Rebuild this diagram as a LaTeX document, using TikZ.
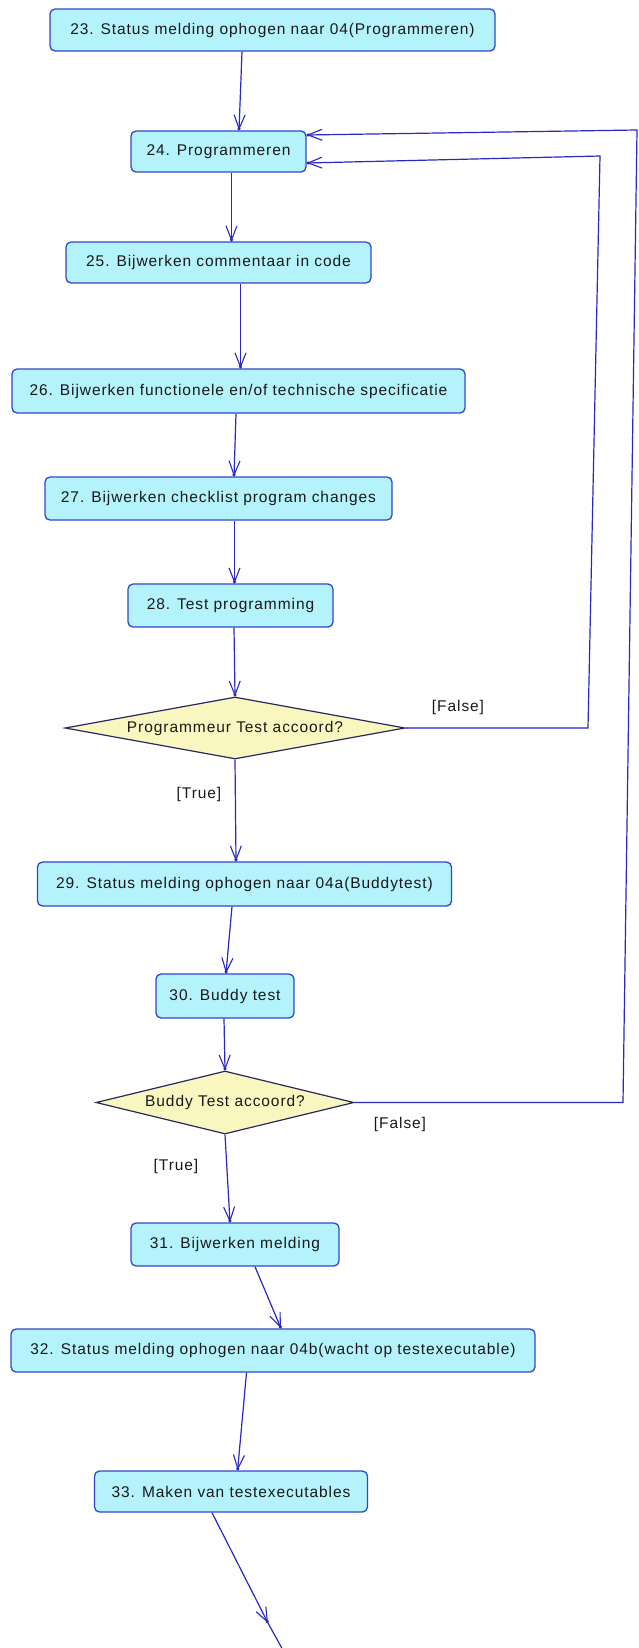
\documentclass[tikz,border=0pt]{standalone}
\usepackage{fontspec}
\setmainfont{Liberation Sans}[LetterSpace=6]
\usetikzlibrary{arrows.meta,shapes.geometric}

\definecolor{boxfill}{RGB}{180,243,251}
\definecolor{boxline}{RGB}{50,70,205}
\definecolor{flowc}{RGB}{40,40,195}
\definecolor{decfill}{RGB}{250,246,192}
\definecolor{decline}{RGB}{40,40,95}
\definecolor{ink}{RGB}{25,25,25}

\begin{document}
\begin{tikzpicture}[x=1pt,y=-1pt,
  txt/.style={font=\fontsize{15.5}{18}\selectfont, text=ink},
  act/.style={txt, draw=boxline, fill=boxfill, rounded corners=5pt,
    line width=1.3pt, inner sep=0pt},
  dec/.style={txt, diamond, draw=decline, fill=decfill, line width=1.2pt,
    inner sep=0pt},
  flowline/.style={draw=flowc, line width=1.2pt},
  flow/.style={flowline,
    -{Straight Barb[length=14pt,width=11pt,line width=1.1pt,sep=-3pt] Circle[length=3pt]}},
  lbl/.style={txt}
]
\fill[white] (0,0) rectangle (639,1648);
\useasboundingbox (0,0) rectangle (639,1648);

% activities
\node[act, minimum width=445pt, minimum height=42pt] (n23) at (272.5,30) {23. Status melding ophogen naar 04(Programmeren)};
\node[act, minimum width=175pt, minimum height=41pt] (n24) at (218.5,151.5) {24. Programmeren};
\node[act, minimum width=305pt, minimum height=41pt] (n25) at (218.5,262.5) {25. Bijwerken commentaar in code};
\node[act, minimum width=453pt, minimum height=44pt] (n26) at (238.5,391) {26. Bijwerken functionele en/of technische specificatie};
\node[act, minimum width=347pt, minimum height=43pt] (n27) at (218.5,498.5) {27. Bijwerken checklist program changes};
\node[act, minimum width=205pt, minimum height=43pt] (n28) at (230.5,605.5) {28. Test programming};
\node[dec, aspect=5.48, minimum width=340pt, minimum height=62pt] (d1) at (235,728) {Programmeur Test accoord?};
\node[act, minimum width=414pt, minimum height=44pt] (n29) at (244.5,884) {29. Status melding ophogen naar 04a(Buddytest)};
\node[act, minimum width=138pt, minimum height=44pt] (n30) at (225,996) {30. Buddy test};
\node[dec, aspect=4.1, minimum width=258pt, minimum height=63pt] (d2) at (225,1102.5) {Buddy Test accoord?};
\node[act, minimum width=208pt, minimum height=43pt] (n31) at (235,1244.5) {31. Bijwerken melding};
\node[act, minimum width=524pt, minimum height=43pt] (n32) at (273,1350.5) {32. Status melding ophogen naar 04b(wacht op testexecutable)};
\node[act, minimum width=273pt, minimum height=41pt] (n33) at (231,1491.5) {33. Maken van testexecutables};

% guard labels
\node[lbl] (lf1) at (458,707) {[False]};
\node[lbl] (lt1) at (199,794) {[True]};
\node[lbl] (lf2) at (400,1124) {[False]};
\node[lbl] (lt2) at (176,1166) {[True]};

% bends of the loops back to 24
\coordinate (f1a) at (588,728);
\coordinate (f1b) at (600,156);
\coordinate (f2a) at (623,1102.5);
\coordinate (f2b) at (637,130);
% outgoing flow of 33
\coordinate (endtip) at (268,1623);
\coordinate (endout) at (284,1652);

% main flow
\draw[flow] ([xshift=-30.5pt]n23.south) -- ([xshift=20.5pt]n24.north);
\draw[flow] ([xshift=13pt]n24.south) -- ([xshift=13pt]n25.north);
\draw[flow] ([xshift=22pt]n25.south) -- ([xshift=2pt]n26.north);
\draw[flow] ([xshift=-2.5pt]n26.south) -- ([xshift=15.5pt]n27.north);
\draw[flow] ([xshift=16pt]n27.south) -- ([xshift=4pt]n28.north);
\draw[flow] ([xshift=3.5pt]n28.south) -- (d1.north);
\draw[flow] (d1.south) -- ([xshift=-8.5pt]n29.north);
\draw[flow] ([xshift=-12.5pt]n29.south) -- ([xshift=1pt]n30.north);
\draw[flow] ([xshift=-1pt]n30.south) -- (d2.north);
\draw[flow] (d2.south) -- ([xshift=-5pt]n31.north);
\draw[flow] ([xshift=20pt]n31.south) -- ([xshift=8pt]n32.north);
\draw[flow] ([xshift=-26.5pt]n32.south) -- ([xshift=6.6pt]n33.north);
\draw[flow] ([xshift=-19pt]n33.south) -- (endtip);
\draw[flowline] (endtip) -- (endout);

% loops back
\draw[flow] (d1.east) -- (f1a) -- (f1b) -- ([yshift=-11.5pt]n24.east);
\draw[flow] (d2.east) -- (f2a) -- (f2b) -- ([yshift=16.5pt]n24.east);
\end{tikzpicture}
\end{document}
